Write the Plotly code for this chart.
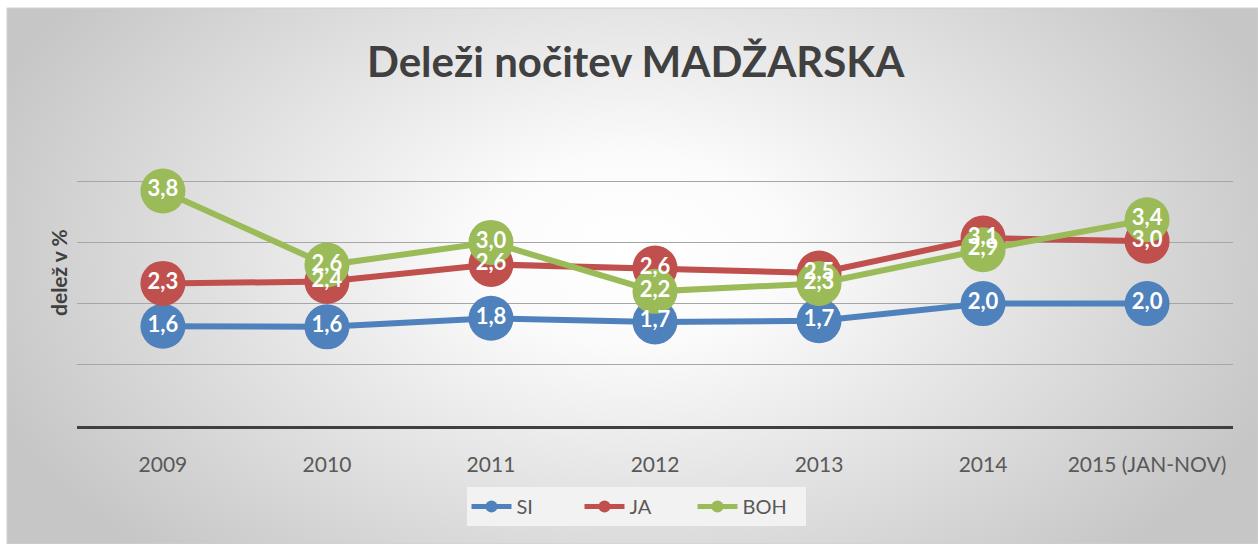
import base64
import plotly.graph_objects as go

categories = ["2009", "2010", "2011", "2012", "2013", "2014", "2015 (JAN-NOV)"]
si_values = [1.63, 1.62, 1.76, 1.70, 1.72, 2.00, 2.00]
ja_values = [2.33, 2.36, 2.64, 2.58, 2.50, 3.07, 3.02]
boh_values = [3.84, 2.63, 3.00, 2.20, 2.33, 2.88, 3.37]

series_names = ["SI", "JA", "BOH"]
series_values = [si_values, ja_values, boh_values]
series_colors = ["#4F81BD", "#C0504D", "#9BBB59"]

W, H = 1258, 544
L, R, T, B = 77, 25, 120, 118
pw, ph = W - L - R, H - T - B

def px_x(p):
    return (p - L) / pw

def px_y(p):
    return (H - B - p) / ph

svg = (
    '<svg xmlns="http://www.w3.org/2000/svg" width="1251" height="536" viewBox="0 0 1251 536" preserveAspectRatio="none">'
    '<defs><radialGradient id="g" cx="0.5" cy="0.45" r="0.5" '
    'gradientTransform="translate(0.5,0.45) scale(1.1,1.6) translate(-0.5,-0.45)">'
    '<stop offset="0" stop-color="#ffffff"/>'
    '<stop offset="0.22" stop-color="#fbfbfb"/>'
    '<stop offset="1" stop-color="#c6c6c6"/>'
    '</radialGradient></defs>'
    '<rect x="0" y="0" width="1251" height="536" fill="url(#g)"/></svg>'
)
src = "data:image/svg+xml;base64," + base64.b64encode(svg.encode()).decode()

fig = go.Figure()
for name, vals, col in zip(series_names, series_values, series_colors):
    fig.add_trace(go.Scatter(
        x=categories, y=vals, name=name, mode="lines+markers",
        line=dict(color=col, width=6),
        marker=dict(color=col, size=45),
        hoverinfo="skip",
    ))
for name, vals in zip(series_names, series_values):
    fig.add_trace(go.Scatter(
        x=categories, y=vals, mode="text", showlegend=False,
        text=[f"{v:.1f}".replace(".", ",") for v in vals],
        textposition="middle center",
        textfont=dict(family="Lato", size=22, color="white", weight="bold"),
        hoverinfo="skip",
    ))

fig.update_layout(
    width=W, height=H,
    margin=dict(l=L, r=R, t=T, b=B, pad=0),
    paper_bgcolor="white",
    plot_bgcolor="rgba(0,0,0,0)",
    font=dict(family="Lato", color="#595959"),
    showlegend=True,
    legend=dict(
        orientation="h", x=px_x(636), xanchor="center", y=px_y(487), yanchor="top",
        bgcolor="#f2f2f2", font=dict(family="Lato", size=20, color="#595959"),
        itemsizing="constant", itemwidth=40, entrywidth=58,
    ),
    images=[dict(
        source=src, xref="paper", yref="paper",
        x=px_x(7), y=px_y(8), sizex=1251 / pw, sizey=536 / ph,
        xanchor="left", yanchor="top", sizing="stretch", layer="below",
    )],
    shapes=[dict(
        type="rect", xref="paper", yref="paper",
        x0=px_x(7), x1=px_x(1258), y0=px_y(544), y1=px_y(8),
        line=dict(color="#d0d0d0", width=1), layer="below",
    )],
    annotations=[
        dict(text="Deleži nočitev MADŽARSKA", xref="paper", yref="paper",
             x=px_x(636), y=px_y(61), xanchor="center", yanchor="middle",
             showarrow=False,
             font=dict(family="Lato", size=42, color="#404040", weight="bold")),
        dict(text="delež v %", xref="paper", yref="paper",
             x=px_x(58), y=px_y(273), xanchor="center", yanchor="middle",
             textangle=-90, showarrow=False,
             font=dict(family="Lato", size=21, color="#404040", weight="bold")),
    ],
)
fig.update_xaxes(
    showline=True, linecolor="#404040", linewidth=3,
    showgrid=False, ticks="outside", ticklen=18, tickcolor="rgba(0,0,0,0)",
    tickfont=dict(family="Lato", size=21, color="#595959"),
    fixedrange=True,
)
fig.update_yaxes(
    range=[0, 5], dtick=1, showgrid=True, gridcolor="#a6a6a6", gridwidth=1,
    zeroline=False, showticklabels=False, showline=False, fixedrange=True,
)
fig.write_html("out.html", config={"displayModeBar": False},
               post_script="document.body.style.margin='0';")
